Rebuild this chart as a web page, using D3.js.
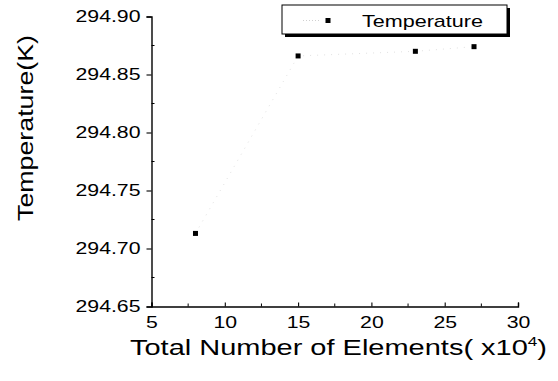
<!DOCTYPE html>
<html>
<head>
<meta charset="utf-8">
<script src="https://cdn.jsdelivr.net/npm/d3@7/dist/d3.min.js"></script>
<style>
  html, body { margin: 0; padding: 0; background: #fff; }
  svg { display: block; font-family: "Liberation Sans", Arial, sans-serif; }
</style>
</head>
<body>
<svg id="chart" width="558" height="381"></svg>
<script>
// Mesh study: temperature against total number of elements (x10^4)
const elements = [8, 15, 23, 27];
const temperature = [294.713, 294.866, 294.870, 294.874];
const xTicks = [5, 10, 15, 20, 25, 30];
const yTicks = [294.65, 294.70, 294.75, 294.80, 294.85, 294.90];
const xMinor = [7.5, 12.5, 17.5, 22.5, 27.5];
const yMinor = [294.675, 294.725, 294.775, 294.825, 294.875];
const seriesName = "Temperature";

const svg = d3.select("#chart");
const x = d3.scaleLinear().domain([5, 30]).range([151.5, 518]);
const y = d3.scaleLinear().domain([294.65, 294.90]).range([306.5, 16.5]);

// faint connecting line
const line = d3.line().x((d, i) => x(elements[i])).y(d => y(d));
svg.append("path")
  .attr("d", line(temperature))
  .attr("fill", "none")
  .attr("stroke", "#e2e2e2")
  .attr("stroke-width", 1)
  .attr("stroke-dasharray", "1,6");

// axes
const xAxis = svg.append("g").attr("transform", `translate(0,${y.range()[0]})`)
  .call(d3.axisBottom(x).tickValues(xTicks).tickSize(-4).tickFormat(d3.format("d")));
const yAxis = svg.append("g").attr("transform", `translate(${x.range()[0]},0)`)
  .call(d3.axisLeft(y).tickValues(yTicks).tickSize(5).tickFormat(d3.format(".2f")));

[xAxis, yAxis].forEach(g => {
  g.select(".domain").attr("stroke", "#000").attr("stroke-width", 1.4);
  g.selectAll(".tick line").attr("stroke", "#000").attr("stroke-width", 1.1);
  g.selectAll("text").attr("fill", "#000").attr("font-size", 17)
    .attr("font-family", "Liberation Sans, Arial, sans-serif");
});
// labels are set slightly wide
function widen(sel) {
  sel.each(function() {
    const w = this.getComputedTextLength();
    d3.select(this).attr("textLength", w * 1.25).attr("lengthAdjust", "spacingAndGlyphs");
  });
}
xAxis.selectAll(".tick text").attr("y", 7).attr("dy", "0.85em").call(widen);
yAxis.selectAll(".tick text").attr("x", -11).call(widen);

// minor ticks, pointing into the plot
svg.append("g").selectAll("line").data(xMinor).join("line")
  .attr("x1", d => x(d)).attr("x2", d => x(d))
  .attr("y1", y.range()[0]).attr("y2", y.range()[0] - 3)
  .attr("stroke", "#000").attr("stroke-width", 1);
svg.append("g").selectAll("line").data(yMinor).join("line")
  .attr("x1", x.range()[0]).attr("x2", x.range()[0] + 3)
  .attr("y1", d => y(d)).attr("y2", d => y(d))
  .attr("stroke", "#000").attr("stroke-width", 1);

// data points
svg.append("g").selectAll("rect").data(temperature).join("rect")
  .attr("x", (d, i) => x(elements[i]) - 2.5)
  .attr("y", d => y(d) - 2.5)
  .attr("width", 5).attr("height", 5)
  .attr("fill", "#000");

// axis titles
const xt = svg.append("text")
  .attr("x", 130).attr("y", 355)
  .attr("font-size", 22).attr("fill", "#000");
xt.append("tspan").text("Total Number of Elements( x10");
xt.append("tspan").attr("dy", -9).attr("font-size", 13).text("4");
xt.append("tspan").attr("dy", 9).text(")");
xt.attr("textLength", 417).attr("lengthAdjust", "spacingAndGlyphs");

svg.append("text")
  .attr("transform", "translate(33,128) rotate(-90)")
  .attr("text-anchor", "middle")
  .attr("font-size", 22).attr("fill", "#000")
  .attr("textLength", 186).attr("lengthAdjust", "spacingAndGlyphs")
  .text("Temperature(K)");

// legend
const lg = svg.append("g");
lg.append("rect").attr("x", 285).attr("y", 8).attr("width", 225).attr("height", 29).attr("fill", "#000");
lg.append("rect").attr("x", 282).attr("y", 5).attr("width", 225).attr("height", 29)
  .attr("fill", "#fff").attr("stroke", "#000").attr("stroke-width", 1);
lg.append("line").attr("x1", 303).attr("x2", 320).attr("y1", 20.5).attr("y2", 20.5)
  .attr("stroke", "#d0d0d0").attr("stroke-dasharray", "1,2");
lg.append("rect").attr("x", 325.5).attr("y", 18).attr("width", 5).attr("height", 5).attr("fill", "#000");
lg.append("text").attr("x", 362).attr("y", 26.5)
  .attr("font-size", 17).attr("fill", "#000")
  .attr("textLength", 121).attr("lengthAdjust", "spacingAndGlyphs")
  .text(seriesName);
</script>
</body>
</html>
